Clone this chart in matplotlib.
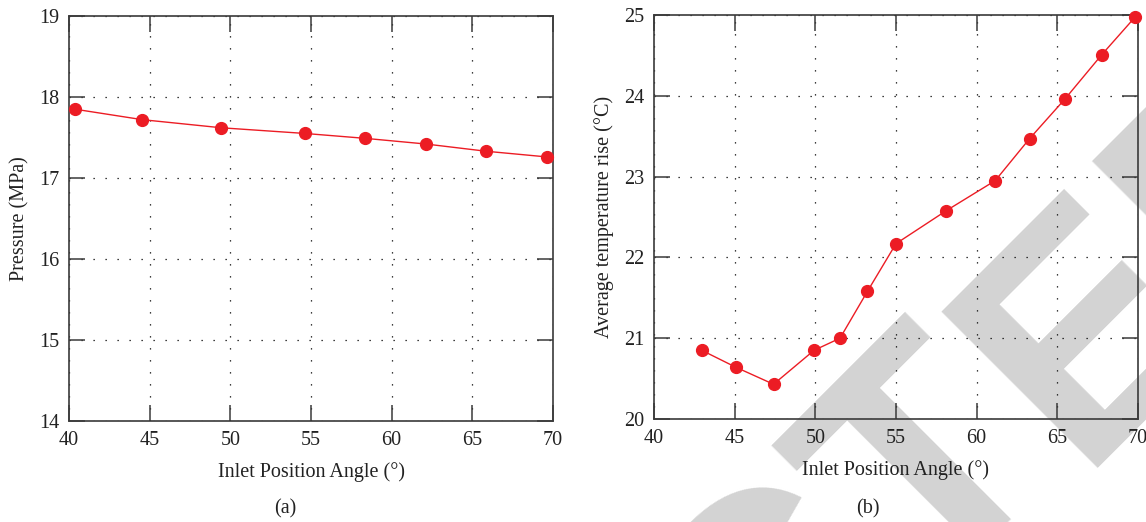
import numpy as np
import matplotlib
matplotlib.use("Agg")
import matplotlib.pyplot as plt


angle_a  = [40.35, 44.55, 49.45, 54.62, 58.33, 62.10, 65.87, 69.63]
pressure = [17.85, 17.72, 17.62, 17.55, 17.49, 17.42, 17.33, 17.26]

angle_b   = [42.96, 45.08, 47.41, 49.92, 51.53, 53.23, 55.00, 58.13, 61.15, 63.28, 65.47, 67.76, 69.80]
temp_rise = [20.85, 20.64, 20.43, 20.85, 21.00, 21.58, 22.17, 22.58, 22.95, 23.47, 23.96, 24.51, 24.97]

x_ticks   = [40, 45, 50, 55, 60, 65, 70]
y_ticks_a = [14, 15, 16, 17, 18, 19]
y_ticks_b = [20, 21, 22, 23, 24, 25]

x_label  = "Inlet Position Angle (°)"
y_label_a = "Pressure (MPa)"
y_label_b = "Average temperature rise (°C)"

red   = "#ec1c24"
spine = "#3a3a3a"

plt.rcParams['font.family'] = ['Liberation Serif', 'DejaVu Serif']


def style_axes(ax, xt, yt):
    ax.set_facecolor('none')
    ax.set_xlim(xt[0], xt[-1])
    ax.set_ylim(yt[0], yt[-1])
    ax.set_xticks(xt)
    ax.set_yticks(yt)
    ax.tick_params(direction='in', length=11.5, width=1.1, color=spine,
                   top=True, right=True, labelsize=14.5, labelcolor='#222222', pad=7)
    ax.grid(True, color='black', linestyle=(0, (1, 8.6)), linewidth=0.9)
    for s in ax.spines.values():
        s.set_color(spine)
        s.set_linewidth(1.2)


fig = plt.figure(figsize=(11.46, 5.22), dpi=100)

# watermark behind the plots
fig.text(1058 / 1146, 1 - 450 / 522, "RETRACT", rotation=45, rotation_mode='anchor', ha='right', va='baseline',
         fontsize=231, family='Liberation Sans', weight='bold', color='#d3d3d3', zorder=-5)
fig.text(1076 / 1146, 1 - 468 / 522, "ED", rotation=45, rotation_mode='anchor', ha='left', va='baseline',
         fontsize=231, family='Liberation Sans', weight='bold', color='#d3d3d3', zorder=-5)

ax1 = fig.add_axes([69 / 1146, 101 / 522, 484 / 1146, 405 / 522])
ax2 = fig.add_axes([654 / 1146, 103 / 522, 484 / 1146, 404 / 522])

ax1.plot(angle_a, pressure, color=red, linewidth=1.0, marker='o', markersize=8.5, clip_on=False, zorder=5)
ax2.plot(angle_b, temp_rise, color=red, linewidth=1.0, marker='o', markersize=8.5, clip_on=False, zorder=5)

style_axes(ax1, x_ticks, y_ticks_a)
style_axes(ax2, x_ticks, y_ticks_b)

for ax, yl in [(ax1, y_label_a), (ax2, y_label_b)]:
    ax.set_xlabel(x_label, fontsize=14.5, color='#222222', labelpad=9)
    ax.set_ylabel(yl, fontsize=14.5, color='#222222', labelpad=7)

fig.text(285 / 1146, 1 - 509 / 522, "(a)", ha='center', va='center', fontsize=14.5, color='#222222')
fig.text(868 / 1146, 1 - 509 / 522, "(b)", ha='center', va='center', fontsize=14.5, color='#222222')

fig.savefig("out.png", dpi=100)
